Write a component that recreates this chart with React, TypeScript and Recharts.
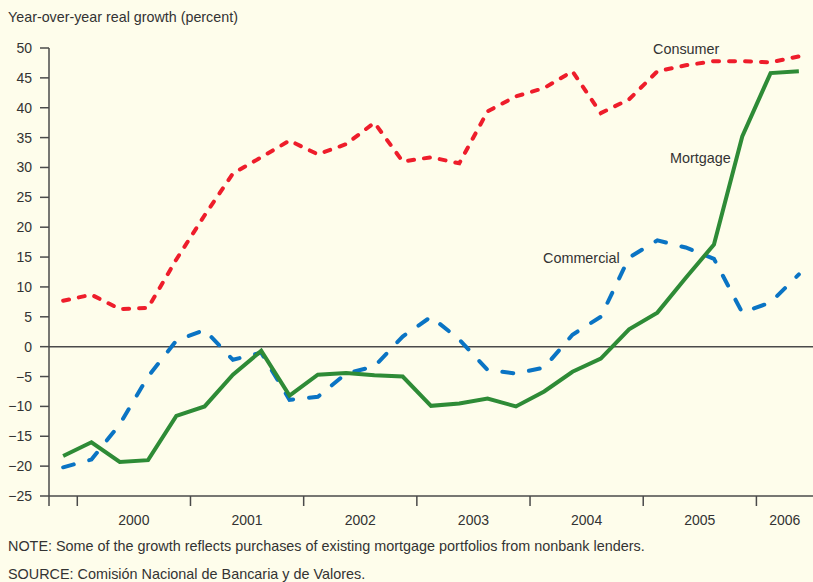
import React from 'react';
import { LineChart, Line, XAxis, YAxis, ReferenceLine } from 'recharts';

const quarters = ['1999Q4', '2000Q1', '2000Q2', '2000Q3', '2000Q4', '2001Q1', '2001Q2', '2001Q3', '2001Q4', '2002Q1', '2002Q2', '2002Q3', '2002Q4', '2003Q1', '2003Q2', '2003Q3', '2003Q4', '2004Q1', '2004Q2', '2004Q3', '2004Q4', '2005Q1', '2005Q2', '2005Q3', '2005Q4', '2006Q1', '2006Q2'];
const consumer = [7.7, 8.7, 6.3, 6.5, 14.6, 22.0, 29.0, 31.7, 34.5, 32.2, 33.9, 37.5, 31.0, 31.7, 30.7, 39.4, 41.9, 43.3, 46.1, 39.1, 41.4, 46.1, 47.1, 47.8, 47.8, 47.6, 48.6];
const mortgage = [-18.3, -16.0, -19.3, -19.0, -11.6, -10.0, -4.7, -0.7, -8.2, -4.7, -4.4, -4.8, -5.0, -9.9, -9.5, -8.7, -10.0, -7.5, -4.2, -2.0, 2.9, 5.7, 11.5, 17.1, 35.2, 45.8, 46.1];
const commercial = [-20.2, -18.9, -13.0, -5.0, 1.0, 2.8, -2.2, -1.0, -8.9, -8.4, -4.5, -3.3, 1.7, 5.0, 1.2, -3.9, -4.5, -3.5, 2.0, 5.0, 14.9, 17.8, 16.6, 14.7, 5.7, 7.4, 12.1];

const yearLabels = ['2000', '2001', '2002', '2003', '2004', '2005', '2006'];
const yearCenters = [2.5, 6.5, 10.5, 14.5, 18.5, 22.5, 25.5];
const yearBoundaries = [-0.5, 0.5, 4.5, 8.5, 12.5, 16.5, 20.5, 24.5];
const yTicks = [-25, -20, -15, -10, -5, 0, 5, 10, 15, 20, 25, 30, 35, 40, 45, 50];

const data = quarters.map((q, i) => ({
  i,
  q,
  consumer: consumer[i],
  mortgage: mortgage[i],
  commercial: commercial[i],
}));

const FONT = "'Liberation Sans', Arial, sans-serif";
const TEXT = '#333333';
const AXIS = '#4a4a4a';

const XTick = (props: any) => {
  const { x, y, payload } = props;
  const v = payload.value;
  const li = yearCenters.indexOf(v);
  if (li >= 0) {
    return (
      <text x={x} y={y + 29} textAnchor="middle" fontSize={14} fill={TEXT} fontFamily={FONT}>
        {yearLabels[li]}
      </text>
    );
  }
  return <line x1={x} x2={x} y1={y} y2={y + 10} stroke={AXIS} strokeWidth={1.5} />;
};

const fmtY = (v: number) => (v < 0 ? '\u2212' + Math.abs(v) : String(v));

export default function App() {
  return (
    <div style={{ position: 'fixed', left: 0, top: 0, width: 813, height: 582, background: '#FEFDEB', overflow: 'hidden', fontFamily: FONT, color: TEXT }}>
      <div style={{ position: 'absolute', left: 8, top: 9, fontSize: 14.3, whiteSpace: 'nowrap' }}>
        Year-over-year real growth (percent)
      </div>
      <div style={{ position: 'absolute', left: 0, top: 0 }}>
        <LineChart width={813} height={582} data={data} margin={{ top: 48, right: 0, bottom: 56, left: 0 }}>
          <XAxis
            dataKey="i"
            type="number"
            domain={[-0.5, 26.5]}
            ticks={[...yearBoundaries, ...yearCenters]}
            tick={<XTick />}
            tickLine={false}
            tickSize={0}
            tickMargin={0}
            height={30}
            interval={0}
            stroke={AXIS}
            strokeWidth={1.5}
            allowDataOverflow
          />
          <YAxis
            type="number"
            domain={[-25, 50]}
            ticks={yTicks}
            interval={0}
            width={49}
            tickSize={9}
            tickMargin={8}
            tickFormatter={fmtY}
            stroke={AXIS}
            strokeWidth={1.5}
            tick={{ fill: TEXT, fontSize: 14, fontFamily: FONT }}
            tickLine={{ stroke: AXIS, strokeWidth: 1.5 }}
          />
          <ReferenceLine y={0} stroke={AXIS} strokeWidth={1.5} />
          <Line type="linear" dataKey="consumer" stroke="#EE1D2B" strokeWidth={4} strokeDasharray="6 10" strokeLinecap="round" dot={false} isAnimationActive={false} />
          <Line type="linear" dataKey="commercial" stroke="#0A74C4" strokeWidth={4} strokeDasharray="11 16" strokeLinecap="round" dot={false} isAnimationActive={false} />
          <Line type="linear" dataKey="mortgage" stroke="#2E8B36" strokeWidth={4} dot={false} isAnimationActive={false} />
        </LineChart>
      </div>
      <div style={{ position: 'absolute', left: 653, top: 41, fontSize: 14.4, whiteSpace: 'nowrap' }}>Consumer</div>
      <div style={{ position: 'absolute', left: 670, top: 150, fontSize: 14.4, whiteSpace: 'nowrap' }}>Mortgage</div>
      <div style={{ position: 'absolute', left: 543, top: 250, fontSize: 14.4, whiteSpace: 'nowrap' }}>Commercial</div>
      <div style={{ position: 'absolute', left: 8, top: 538, fontSize: 14.4, whiteSpace: 'nowrap' }}>
        NOTE: Some of the growth reflects purchases of existing mortgage portfolios from nonbank lenders.
      </div>
      <div style={{ position: 'absolute', left: 8, top: 566, fontSize: 14.4, whiteSpace: 'nowrap' }}>
        SOURCE: Comisión Nacional de Bancaria y de Valores.
      </div>
    </div>
  );
}
